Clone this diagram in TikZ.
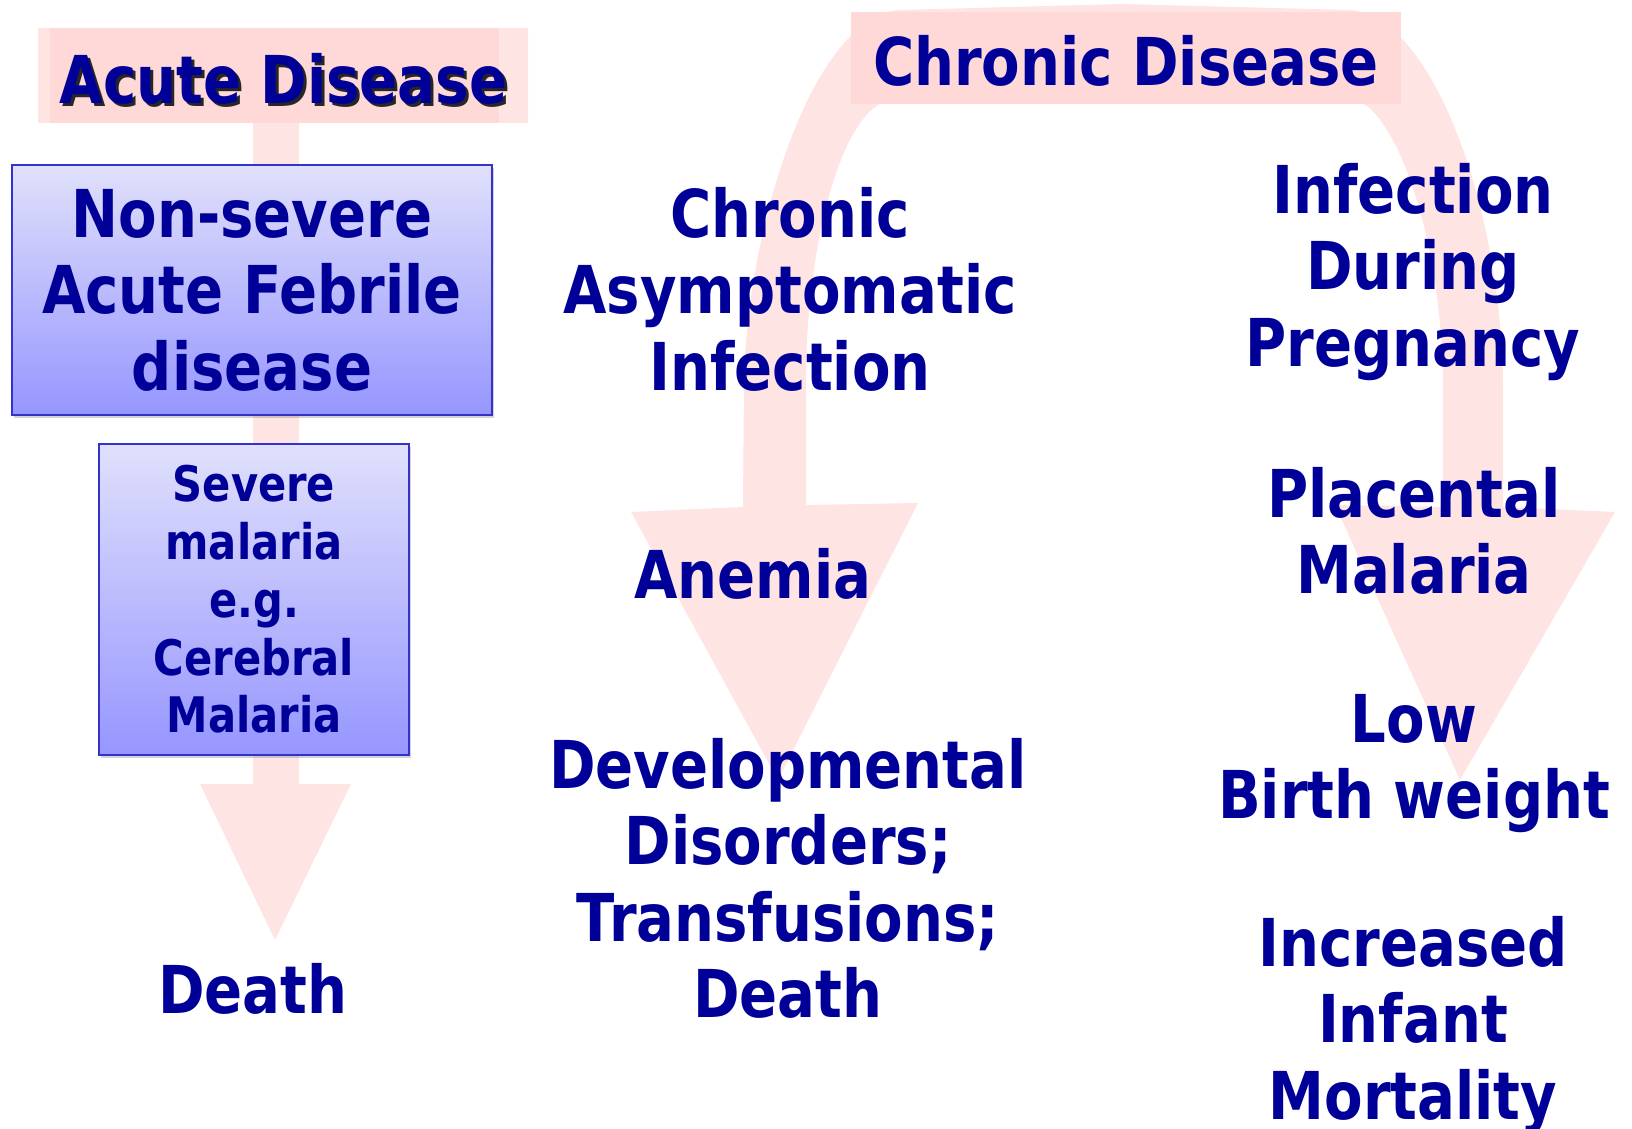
\documentclass[tikz,border=0pt]{standalone}
\usepackage{tkz-euclide}
\usepackage{fontspec}
\setmainfont{DejaVu Sans}[FakeStretch=0.85]
\usetikzlibrary{shadows}
\definecolor{navy}{RGB}{0,0,153}
\definecolor{arrowpink}{RGB}{255,228,228}
\definecolor{bandpink}{RGB}{255,216,216}
\definecolor{boxtop}{RGB}{224,224,252}
\definecolor{boxbottom}{RGB}{150,150,255}
\definecolor{boxline}{RGB}{51,51,204}
\newcommand{\bigtxt}{\fontsize{66}{76.5}\selectfont\bfseries}
\newcommand{\smalltxt}{\fontsize{49}{57.7}\selectfont\bfseries}

\begin{document}
\begin{tikzpicture}[x=1pt, y=-1pt,
    pinkarrow/.style={fill=arrowpink},
    headband/.style={fill=bandpink, inner sep=0pt, text=navy, font=\bigtxt, text height=56pt, text depth=0pt},
    bluebox/.style={draw=boxline, line width=1.5pt, top color=boxtop, bottom color=boxbottom,
        drop shadow={shadow xshift=2pt, shadow yshift=-3pt, opacity=0.35}, text=navy, align=center},
    txt/.style={anchor=north, inner sep=0pt, align=center, text=navy, font=\bigtxt}]
    \useasboundingbox (0,0) rectangle (1632,1129);
    % ACUTE
    \tkzDefPoints{38/28/A,528/28/B,528/123/C,299/123/D,299/784/E,351/784/F,275/940/G,200/784/H,253/784/I,253/123/J,38/123/K}
    \fill[pinkarrow] (A)--(B)--(C)--(D)--(E)--(F)--(G)--(H)--(I)--(J)--(K)--cycle;
    % CHRONIC
    \tkzDefPoints{778/780/L,631/512/M,743/507/N,1503/507/O,1615/512/P,1460/780/Q,1335/505/R,1443/507/S,806/505/T,918/503/U}
    \fill[pinkarrow] (L)--(M)--(N)--(744,380) .. controls (748,220) and (815,15) .. (900,10)
        --(1122,4)--(1350,10) .. controls (1430,15) and (1500,200) .. (1503,380)
        --(O)--(P)--(Q)--(R)--(S)--(1443,380) .. controls (1440,220) and (1390,105) .. (1354,100)
        --(1122,92)--(890,100) .. controls (840,110) and (806,250) .. (806,380)--(T)--(U)--cycle;

    \node[headband, minimum width=449pt, minimum height=95pt] (acute) at (274.5,75.5)
        {\makebox[449pt]{\kern18pt\makebox[0pt][l]{\kern3pt\raisebox{-3pt}{\color{black!85}Acute Disease}}Acute Disease}};
    \node[headband, minimum width=550pt, minimum height=92pt] (chronic) at (1126,58) {Chronic Disease};

    \node[bluebox, minimum width=480pt, minimum height=250pt, font=\bigtxt] (nonsevere) at (252,290)
        {Non-severe\\Acute Febrile\\disease};
    \node[bluebox, minimum width=310pt, minimum height=311pt, font=\smalltxt] (severe) at (254,599.5)
        {Severe\\malaria\\e.g.\\Cerebral\\Malaria};
    \node[txt] (death) at (253,963) {Death};

    \node[txt] (asympt) at (790,187) {Chronic\\Asymptomatic\\Infection};
    \node[txt] (anemia) at (753,548) {Anemia};
    \node[txt] (disorders) at (788,738) {Developmental\\Disorders;\\Transfusions;\\Death};

    \node[txt] (pregnancy) at (1413,163) {Infection\\During\\Pregnancy};
    \node[txt] (placental) at (1414,467) {Placental\\Malaria};
    \node[txt] (lowweight) at (1414,694) {Low\\Birth weight};
    \node[txt] (infant) at (1413,916) {Increased\\Infant\\Mortality};
\end{tikzpicture}
\end{document}
